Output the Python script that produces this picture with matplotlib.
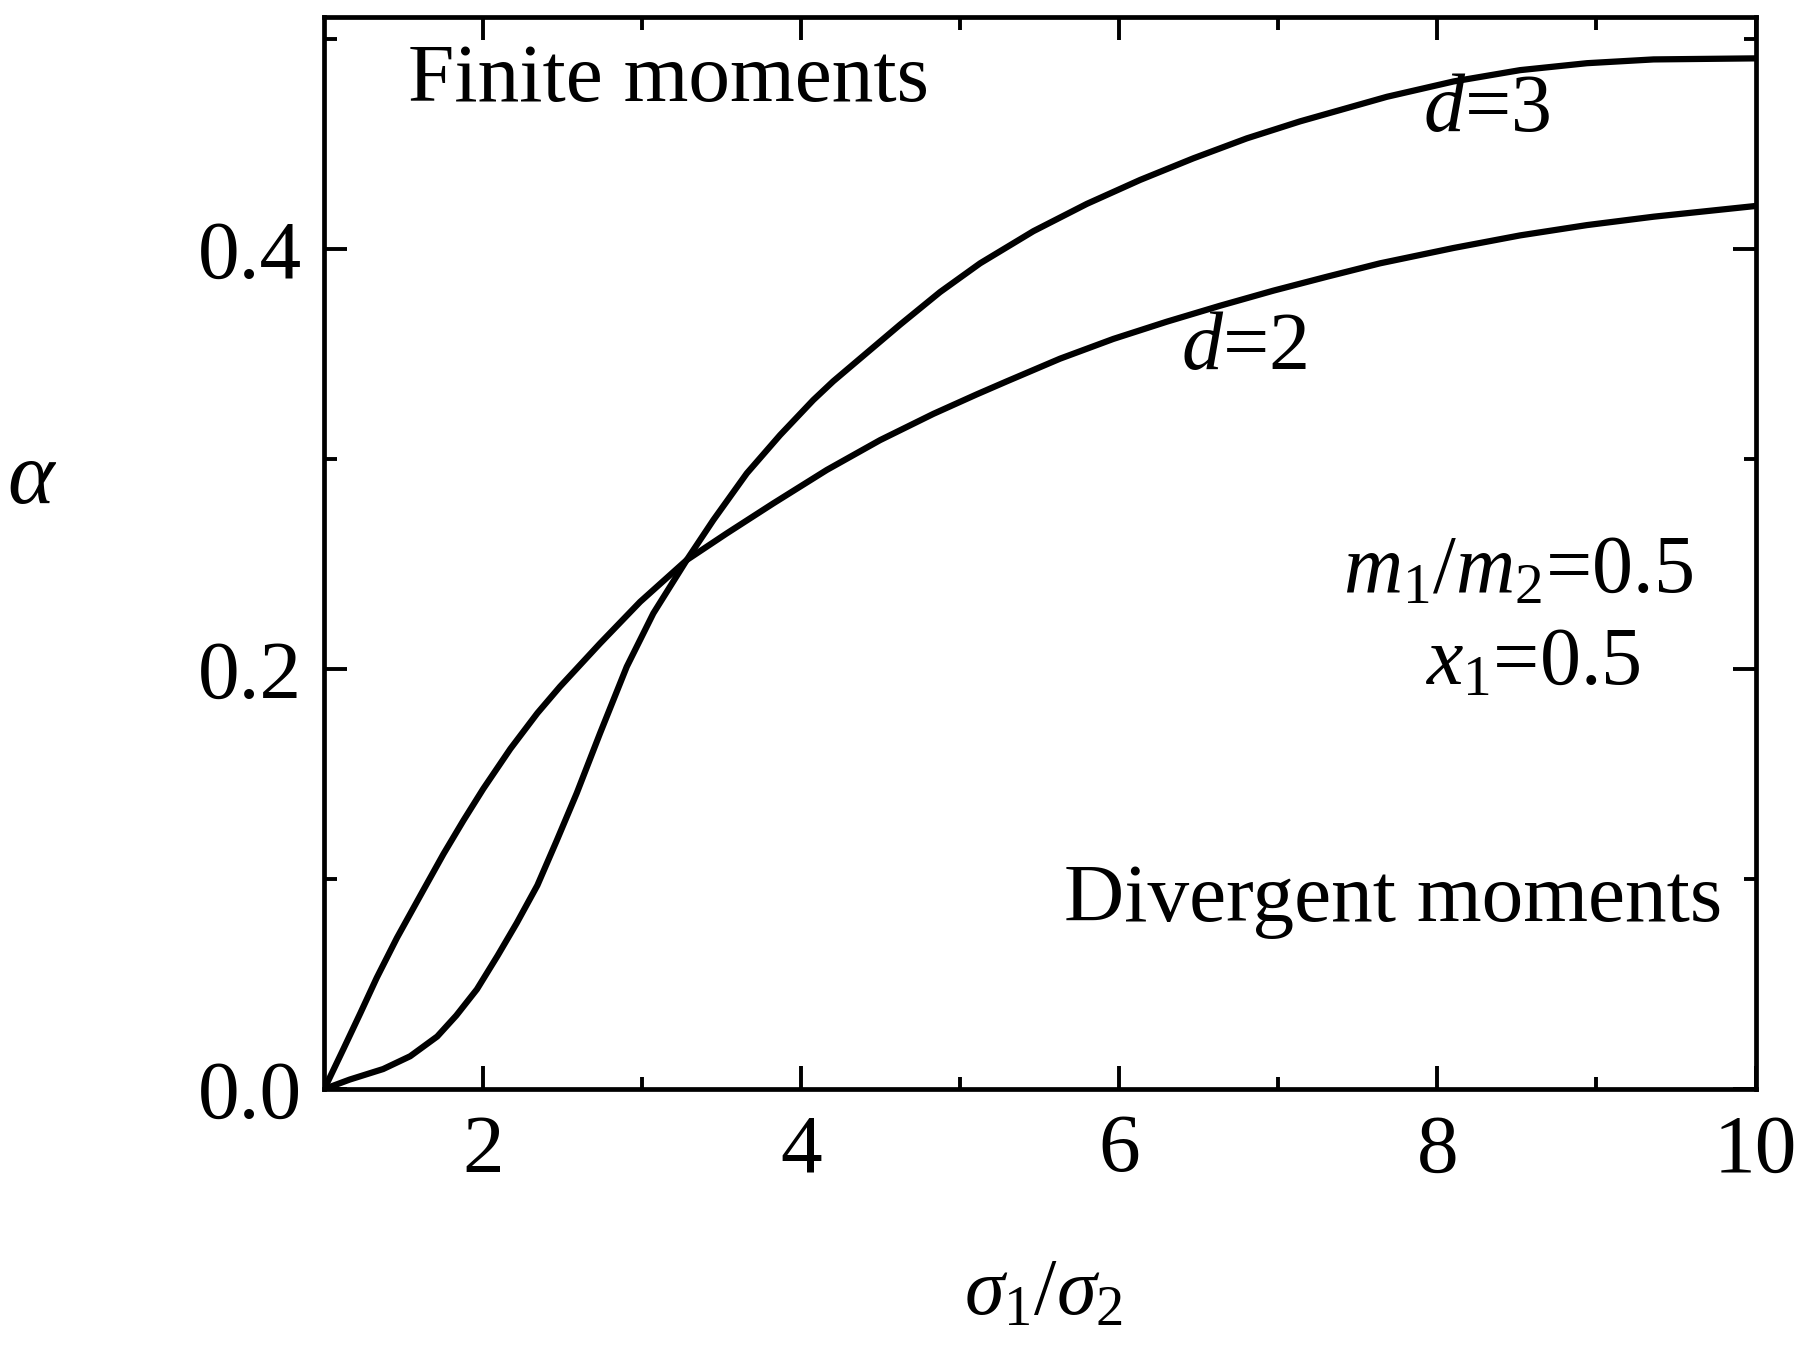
import matplotlib
matplotlib.use("Agg")
import matplotlib.pyplot as plt

plt.rcParams['font.family'] = ['Liberation Serif', 'DejaVu Serif']
plt.rcParams['mathtext.fontset'] = 'custom'
plt.rcParams['mathtext.rm'] = 'Liberation Serif'
plt.rcParams['mathtext.it'] = 'Liberation Serif:italic'
plt.rcParams['mathtext.bf'] = 'Liberation Serif:bold'

# data
x_d2 = [1.0, 1.12, 1.226, 1.33, 1.457, 1.625, 1.75, 1.876, 2.0, 2.17, 2.34, 2.482,
        2.734, 2.986, 3.279, 3.531, 3.824, 4.16, 4.495, 4.83, 5.103, 5.292, 5.627,
        5.962, 6.298, 6.633, 6.969, 7.304, 7.639, 8.101, 8.52, 8.94, 9.359, 10.0]
y_d2 = [0.0, 0.019, 0.036, 0.053, 0.072, 0.095, 0.112, 0.128, 0.143, 0.162, 0.179, 0.1916,
        0.2122, 0.232, 0.2519, 0.2646, 0.2789, 0.2948, 0.309, 0.3215, 0.3308, 0.3370, 0.3478,
        0.3572, 0.3654, 0.3730, 0.3802, 0.3868, 0.3932, 0.4005, 0.4065, 0.4114, 0.4154, 0.4205]
x_d3 = [1.0, 1.16, 1.37, 1.54, 1.71, 1.83, 1.96, 2.09, 2.21, 2.34, 2.46, 2.587,
        2.734, 2.902, 3.069, 3.279, 3.447, 3.657, 3.866, 4.075, 4.2, 4.621, 4.872,
        5.124, 5.459, 5.795, 6.13, 6.465, 6.801, 7.136, 7.388, 7.682, 8.101, 8.52,
        8.94, 9.359, 10.0]
y_d3 = [0.0, 0.0045, 0.0095, 0.0156, 0.025, 0.035, 0.0475, 0.0635, 0.079, 0.097, 0.118, 0.1408,
        0.1694, 0.2011, 0.2265, 0.2519, 0.271, 0.2932, 0.3114, 0.3281, 0.3370, 0.3640, 0.3795,
        0.3932, 0.4085, 0.4215, 0.4329, 0.4432, 0.4527, 0.4608, 0.4662, 0.4725, 0.4798, 0.4852,
        0.4885, 0.4903, 0.4908]

x_ticks = [2, 4, 6, 8, 10]
y_ticks = [0.0, 0.2, 0.4]
y_tick_labels = ["0.0", "0.2", "0.4"]

fig = plt.figure(figsize=(18.17, 13.71), dpi=100)
ax = fig.add_axes([324.3 / 1817, 1 - 1089 / 1371, (1755.5 - 324.3) / 1817, (1089 - 17) / 1371])

ax.plot(x_d2, y_d2, color='black', lw=4.5, solid_joinstyle='round', solid_capstyle='round')
ax.plot(x_d3, y_d3, color='black', lw=4.5, solid_joinstyle='round', solid_capstyle='round')

ax.set_xlim(1, 10)
ax.set_ylim(0, 0.5105)
ax.set_xticks(x_ticks)
ax.set_xticks([3, 5, 7, 9], minor=True)
ax.set_yticks(y_ticks)
ax.set_yticklabels(y_tick_labels)
ax.set_yticks([0.1, 0.3, 0.5], minor=True)

for s in ax.spines.values():
    s.set_linewidth(3.4)

ax.tick_params(which='both', direction='in', top=True, right=True, width=2.8)
ax.tick_params(which='major', length=16.5, labelsize=60)
ax.tick_params(which='minor', length=9)
ax.tick_params(axis='x', which='major', pad=18)
ax.tick_params(axis='y', which='major', pad=16)

ax.text(1.525, 0.4705, "Finite moments", fontsize=60)
ax.text(5.65, 0.080, "Divergent moments", fontsize=60)
ax.text(7.91, 0.456, r"$d$=3", fontsize=59)
ax.text(6.39, 0.343, r"$d$=2", fontsize=59)
ax.text(9.61, 0.237, r"$m_{\mathit{1}}/m_{\mathit{2}}$=0.5", fontsize=59, ha='right')
ax.text(9.28, 0.193, r"$x_{\mathit{1}}$=0.5", fontsize=59, ha='right')

fig.text(0.574, 0.055, r"$\sigma_{\mathit{1}}/\sigma_{\mathit{2}}$", fontsize=58, ha='center', va='center')
fig.text(0.004, 0.649, r"$\alpha$", fontsize=64, ha='left', va='center')

fig.savefig("out.png", dpi=100)
